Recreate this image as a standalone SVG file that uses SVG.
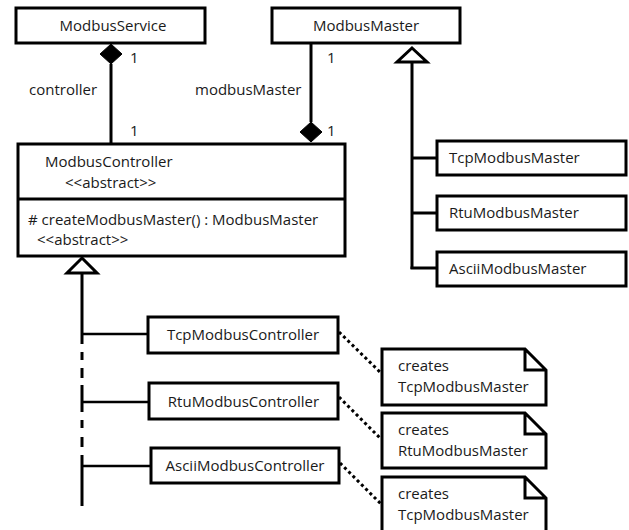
<svg xmlns="http://www.w3.org/2000/svg" width="629" height="530" viewBox="0 0 629 530">
<style>
text{font-family:"Open Sans","Noto Sans","DejaVu Sans",sans-serif;font-size:15px;fill:#1a1a1a;}
.box{fill:#fff;stroke:#000;stroke-width:3;}
.ln{fill:none;stroke:#000;stroke-width:3;}
.thin{fill:none;stroke:#000;stroke-width:2.5;}
.dot{fill:none;stroke:#000;stroke-width:3;stroke-dasharray:3 3;}
.tri{fill:#fff;stroke:#000;stroke-width:3;stroke-linejoin:miter;}
.dia{fill:#000;stroke:#000;stroke-width:1;}
.note{fill:#fff;stroke:#000;stroke-width:3;stroke-linejoin:miter;}
</style>
<rect width="629" height="530" fill="#fff"/>
<g id="connectors">
<line class="ln" x1="111" y1="64" x2="111" y2="143"/>
<polygon class="dia" points="111,44 122,54 111,64 100,54"/>
<line class="ln" x1="311" y1="43" x2="311" y2="122"/>
<polygon class="dia" points="311,122 322,132 311,142 300,132"/>
<line class="ln" x1="412" y1="62" x2="412" y2="269"/>
<polygon class="tri" points="412,48 427,62 397,62"/>
<line class="ln" x1="412" y1="158" x2="437" y2="158"/>
<line class="ln" x1="412" y1="213" x2="437" y2="213"/>
<line class="ln" x1="410.5" y1="268" x2="437" y2="268"/>
<polygon class="tri" points="82,258 97,273 67,273"/>
<line class="ln" x1="82" y1="273" x2="82" y2="344"/>
<line class="ln" x1="82" y1="352" x2="82" y2="360"/>
<line class="ln" x1="82" y1="368" x2="82" y2="378"/>
<line class="ln" x1="82" y1="385" x2="82" y2="412"/>
<line class="ln" x1="82" y1="420" x2="82" y2="428"/>
<line class="ln" x1="82" y1="437" x2="82" y2="447"/>
<line class="ln" x1="82" y1="455" x2="82" y2="506"/>
<line class="thin" x1="82" y1="334" x2="148" y2="334"/>
<line class="thin" x1="82" y1="402" x2="149" y2="402"/>
<line class="thin" x1="82" y1="466" x2="151" y2="466"/>
<line class="dot" x1="339" y1="332" x2="381" y2="373"/>
<line class="dot" x1="339" y1="397" x2="381" y2="439"/>
<line class="dot" x1="340" y1="463" x2="381" y2="504"/>
<text x="130" y="63">1</text>
<text x="130" y="136">1</text>
<text x="29" y="95">controller</text>
<text x="327" y="63">1</text>
<text x="327" y="136">1</text>
<text x="195" y="95">modbusMaster</text>
</g>
<g id="ModbusService">
<rect class="box" x="16" y="8" width="189" height="35"/>
<text x="113" y="31" text-anchor="middle">ModbusService</text>
</g>
<g id="ModbusMaster">
<rect class="box" x="272" y="8" width="188" height="35"/>
<text x="366" y="31" text-anchor="middle">ModbusMaster</text>
</g>
<g id="ModbusController">
<rect class="box" x="18" y="144" width="327" height="112"/>
<line class="ln" x1="18" y1="199" x2="345" y2="199"/>
<text x="45" y="167">ModbusController</text>
<text x="65" y="188">&lt;&lt;abstract&gt;&gt;</text>
<text x="28" y="225"># createModbusMaster() : ModbusMaster</text>
<text x="37" y="245">&lt;&lt;abstract&gt;&gt;</text>
</g>
<g id="TcpModbusMaster">
<rect class="box" x="437" y="141" width="189" height="34"/>
<text x="449" y="163">TcpModbusMaster</text>
</g>
<g id="RtuModbusMaster">
<rect class="box" x="437" y="196" width="189" height="34"/>
<text x="449" y="218">RtuModbusMaster</text>
</g>
<g id="AsciiModbusMaster">
<rect class="box" x="437" y="252" width="189" height="34"/>
<text x="449" y="274">AsciiModbusMaster</text>
</g>
<g id="TcpModbusController">
<rect class="box" x="148" y="317" width="190" height="36"/>
<text x="243" y="340" text-anchor="middle">TcpModbusController</text>
</g>
<g id="RtuModbusController">
<rect class="box" x="149" y="383" width="189" height="36"/>
<text x="243.5" y="407" text-anchor="middle">RtuModbusController</text>
</g>
<g id="AsciiModbusController">
<rect class="box" x="151" y="448" width="188" height="35"/>
<text x="245" y="471" text-anchor="middle">AsciiModbusController</text>
</g>
<g id="note1">
<path class="note" d="M382,349 H525 L546,370 V405 H382 Z M525,349 V370 H546"/>
<text x="398" y="371">creates</text>
<text x="398" y="392">TcpModbusMaster</text>
</g>
<g id="note2">
<path class="note" d="M382,413 H525 L546,434 V468 H382 Z M525,413 V434 H546"/>
<text x="398" y="435">creates</text>
<text x="398" y="456">RtuModbusMaster</text>
</g>
<g id="note3">
<path class="note" d="M382,477 H525 L546,498 V533 H382 Z M525,477 V498 H546"/>
<text x="398" y="499">creates</text>
<text x="398" y="520">TcpModbusMaster</text>
</g>
</svg>
